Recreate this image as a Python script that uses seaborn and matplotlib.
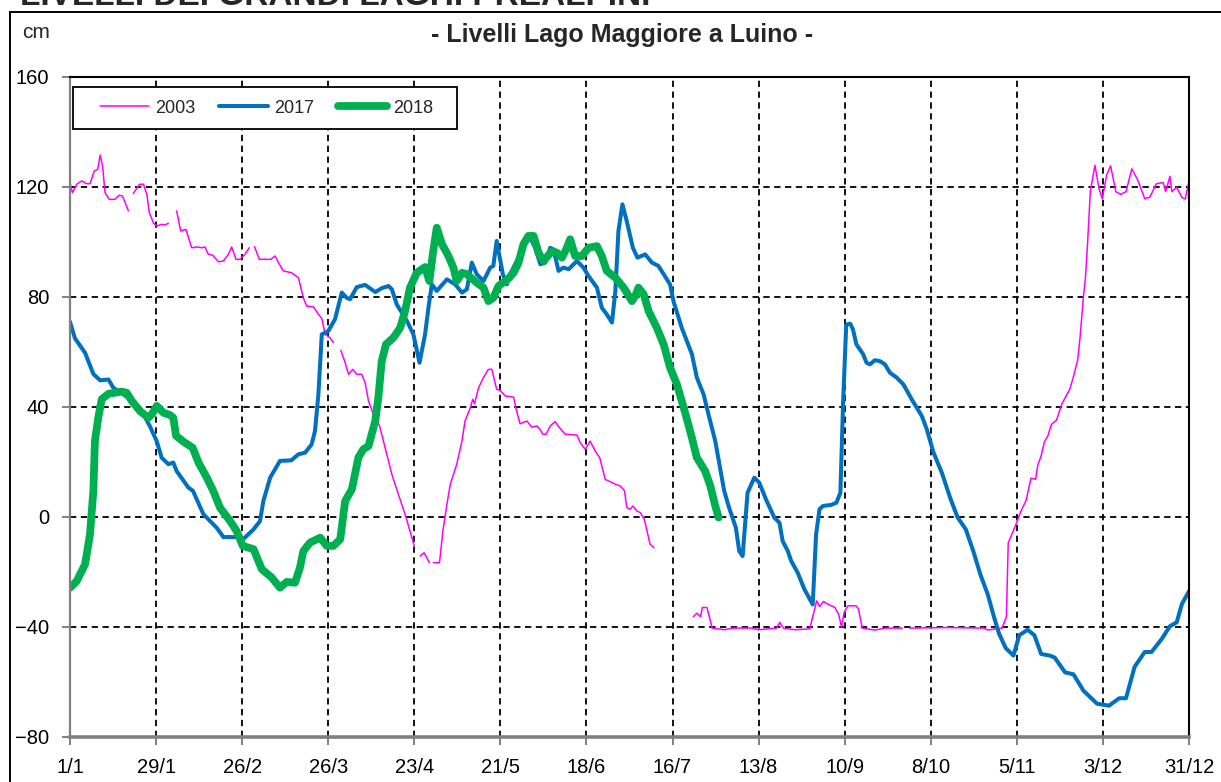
import numpy as np
import pandas as pd
import seaborn as sns
import matplotlib.pyplot as plt
from matplotlib.lines import Line2D
from matplotlib.patches import Rectangle

# x ticks: one every 28 days, labelled day/month
tick_days = list(range(0, 365, 28))
tick_labels = ['1/1', '29/1', '26/2', '26/3', '23/4', '21/5', '18/6', '16/7',
               '13/8', '10/9', '8/10', '5/11', '3/12', '31/12']

# 2003 (None = no reading, the line breaks there)
days_2003 = [0, 0.8, 2.2, 3.8, 5.4, 6.5, 7.9, 9, 9.8, 10.6, 11.4, 12.8, 14.6, 16, 17.1, 19, 19.8,
             20.6, 22.6, 23.9, 25, 25.8, 27.1, 28.2, 29.8, 30.9, 32, 33.3,
             34.7, 36, 37.7, 39.6, 41.2, 42.9, 43.9, 45, 46.4, 48.3, 49.9, 51.5, 52.6, 54, 55.3,
             56.9, 58.3, 59.2,
             60, 61.6, 63.5, 65.3, 66.7, 67.8, 69.4, 72.1, 74.3, 75.9, 77, 79.2, 80.8, 81.9, 83,
             84.6, 85.7, 87,
             88.1, 89.5, 90.6, 92, 93.3, 94.9, 96, 97.1, 98.7, 100.6, 102.5, 104.7, 106.8, 109,
             110.9, 112, 113,
             113.9, 115.2, 116.9, 117.5,
             118.2, 120.2, 121.3, 122.6, 123.7, 125.8, 127.5, 128.5, 130.2, 131, 131.6, 132.9,
             134.5, 136.1, 137.2, 138.8, 139.9, 141.6, 144.3, 145.3, 146.4, 148.6, 150.2, 151.9,
             152.9, 153.8, 154.9, 156.2, 157.8, 159.2, 161.1, 164.9, 166, 167.6, 169.2, 170.8,
             172.3, 174.1, 176.3, 177.4, 179, 180.4, 181.1, 182.2, 183.1, 184.4, 185.5, 186.8,
             187.7, 188.7, 190, 196,
             202.7, 203.9, 205.1, 205.7, 207.2, 208.9, 212.8, 215.7, 221.7, 224, 229.9, 230.9,
             232.1, 235.8, 240.6, 242.9, 243.9, 245.1, 246.5, 248.8, 250, 251, 251.8, 253, 255.7,
             256.5, 257.7, 261.8, 265.4, 270.7, 272,
             273.1, 285, 297.3, 298.5, 303.2, 304.6, 305.2, 307.7, 309.3, 311, 312.6, 314.1,
             314.8, 315.9, 317, 318.1, 319.2, 320.9, 322.6, 325.3, 326.4, 327.8, 328.6, 329.7,
             330.3, 331, 331.9, 333.4, 334.7, 335.8, 337.2, 338.5, 340.2, 341.8, 343.5, 345.4,
             347.3, 349.6, 351.2, 353.4, 355.6, 356.4, 357.8, 358.4, 360, 361.7, 362.8, 364]
level_2003 = [121.6, 117.9, 121, 122.2, 121.2, 121.2, 125.8, 126.4, 131.6, 127.6, 117.9, 115.5,
              115.5, 117, 116.7, 111.3, None,
              117.6, 121, 121, 117.3, 110.7, 107, 105.8, 106.4, 106.2, 106.8, None,
              111.3, 104, 104.6, 97.9, 98.2, 97.9, 98.2, 95.5, 95.2, 92.8, 93.1, 95.5, 98.2, 93.7,
              93.7, 95.5, 97.9, None,
              98.3, 93.7, 93.7, 93.7, 94.9, 92.5, 89.5, 88.8, 87, 79.7, 76.7, 76.4, 73.7, 72.2,
              66.4, 65.2, 63.4, None,
              60.6, 56.1, 51.9, 53.7, 51.9, 51.9, 48.8, 42.2, 37.3, 33.5, 25.2, 15.5, 8.3, 1,
              -6.3, -10.5, None,
              -14.2, -13, -16.6, None,
              -16.6, -16.6, -5.1, 4.6, 11.9, 19.2, 27.6, 34.9, 39.7, 42.8, 41.2, 47, 50.7, 53.7,
              53.7, 46.4, 46.1, 44, 43.6, 38.5, 33.9, 34.9, 32.7, 33.1, 31.9, 30.1, 30.1, 33.1,
              34.7, 32.5, 30.1, 29.8, 27, 24.6, 27.6, 24, 21.6, 13.7, 12.5, 11.9, 11.3, 9.5, 3.4,
              2.8, 4, 2.2, 1.6, -0.8, -5.1, -9.9, -11.2, None,
              -36.3, -35, -36.3, -32.9, -32.9, -40.4, -41, -40.4, -40.4, -41, -40.4, -38.3,
              -40.4, -41, -40.7, -30.5, -32.6, -30.7, -31.7, -32.9, -35.3, -40.1, -34.7, -32.3,
              -32.3, -33.5, -40.4, -41.1, -40.4, -40.4, None,
              -40.4, -40.2, -40.4, -41.1, -40.4, -36.3, -9.4, -2.7, 2, 6, 14.1, 13.7, 18.8, 22.2,
              27.5, 29.5, 33.6, 35.2, 41, 46.7, 51, 57.1, 65.8, 80.6, 86.7, 99.4, 118.3, 127.9,
              119.6, 115.6, 124.3, 127.7, 118.3, 117.3, 118.3, 126.6, 122.6, 115.8, 116.2, 121.2,
              121.6, 118.3, 123.9, 118.3, 119.9, 116.2, 115.6, 122.3]

# 2017
days_2017 = [0, 1.6, 4.9, 7.6, 9.8, 12.5, 14.1, 17.3, 20.6, 23.9, 26, 28.2, 29.8, 32, 33.6, 34.7,
             38.5, 40, 43.4, 47.7, 49.9, 53.7, 56.4, 59.7, 61.8, 62.9, 65.1, 68.3, 72, 74.3,
             76.5, 78.6, 79.7, 80.8, 81.9, 84, 86.2, 88.4, 90, 91.1, 93.3, 96, 99.3, 101.4,
             103.6, 104.7, 106.3, 109.6, 111.7, 113.7, 115.5, 116.6, 117.7, 119.3, 122.6, 125.3,
             127.5, 129.1, 130.7, 132.3, 134.5, 136.7, 137.7, 138.8, 140.8, 142.1, 143.2, 145.3,
             148, 149.7, 151.3, 153, 154.6, 156.2, 157.3, 158.9, 160.5, 162.2, 164.9, 167, 168.7,
             171.4, 173, 174.6, 176.3, 177.4, 178.4, 179.7, 181.1, 183.1, 184.6, 187.1, 189.3,
             191.4, 193.1, 195.2, 196.3, 199, 202.3, 203.9, 206.1, 207.7, 209.9, 211.5, 212.8,
             214.4, 216.6, 217.7, 218.8, 220.4, 222.6, 224.2, 226.4, 229.1, 230.8, 231.8, 233.5,
             234.6, 236.7, 238.9, 241.6, 242.7, 243.8, 244.9, 247.6, 249.3, 250.6, 251.5, 252.5,
             253.8, 254.7, 255.8, 258, 259.1, 260.2, 261.8, 263.4, 265.1, 266.7, 268.9, 271.1,
             273.8, 277.1, 278.7, 280.9, 283.6, 286.3, 288.7, 291.4, 293.8, 296.1, 298.5, 300.6,
             302.2, 304.4, 306.9, 308.8, 311.5, 313.7, 315.9, 318.7, 320.3, 323.7, 326.4, 329.7,
             334.1, 338, 341.3, 343.5, 346.3, 349.6, 351.8, 355.1, 357.8, 360, 361.7, 364]
level_2017 = [71, 65, 59.7, 52, 49.7, 50, 47, 44.6, 42.2, 37.3, 33, 27.6, 21.6, 19.2, 19.8, 16.7,
              10.7, 9.5, 1, -3.9, -7.3, -7.3, -8, -4.5, -1.5, 5.8, 14.3, 20.4, 20.6, 22.8,
              23.4, 26.4, 31.3, 44.6, 66.4, 67.6, 71.9, 81.6, 79.7, 79.2, 83.6, 84.4, 81.8, 83.2,
              84, 82.8, 77.3, 71.3, 66.4, 56.1, 66.4, 76.1, 84.6, 82.2, 86.4, 84.6,
              81.6, 82.8, 92.5, 88.3, 85.8, 90.7, 91.3, 100.4, 88.3, 84.6, 88.3, 93.1,
              99.2, 101.6, 97.9, 91.9, 92.5, 97.9, 97.3, 89.5, 90.7, 90.1, 93.1, 90.7, 87.6,
              83.4, 76.1, 73.7, 70.7, 82.2, 104, 113.7, 107.6, 97.9, 94.3, 95.5, 92.5,
              91.3, 88.3, 84.6, 78.5, 68.8, 59.2, 50.7, 44.6, 37.3, 27.6, 17.5, 9.5,
              3.4, -3.9, -12.4, -14.2, 8.8, 14.3, 12.5, 6.4, -0.2, -2.1, -8.7, -12.4,
              -16, -20.2, -26.3, -31.8, -6.3, 2.8, 4, 4.4, 5.2, 8.8, 42.2, 70,
              70.3, 68.2, 62.8, 59.2, 56.1, 55.5, 57, 56.7, 55.5, 52.5, 50.7, 48.2,
              42.8, 36.7, 31.9, 23.4, 16.1, 7, -0.1, -4.5, -12.3, -20.8, -28, -36.5,
              -42.4, -47.7, -50.4, -43, -41, -43, -49.8, -50.4, -51.1, -56.5, -57.2, -63.2,
              -67.9, -68.6, -65.9, -65.9, -54.5, -49.1, -49.1, -44.4, -39.7, -38.3, -31.6, -27]

# 2018 (readings stop at the end of July)
days_2018 = [0, 2.2, 4.9, 6.5, 7.6, 8.1, 9.2, 10.3, 12.5, 16.8, 18.4, 20.1, 22.8, 25.5, 26.6,
             28.2, 30.4, 32.5, 33.6, 34.5, 37.4, 39.9, 41.8, 44.5, 46.6, 48.8, 52.1, 54.2, 56.2,
             59.7, 62.4, 65.6, 68.3, 70.5, 73.2, 74.8, 75.9, 78.1, 81.4, 83.5, 85.7, 87.9, 89.5,
             91.7, 93.8, 95.4, 97.1, 99.3, 100.3, 101.4, 102.8, 105.2, 107.4, 109, 110.6, 112.8,
             115.5, 116.9, 118, 119.3, 121, 123.1, 124.7, 125.8, 127.5, 129.1, 132.3, 134.5,
             136.1, 137.7, 139.4, 142.6, 144.3, 145.9, 147.5, 149.1, 150.8, 152.4, 154, 156.8,
             158.4, 160, 161.4, 162.7, 164.3, 166.5, 168.7, 171.4, 173, 174.6, 177.4, 180.1,
             182.8, 183.9, 184.9, 186.6, 188.2, 190.9, 193.1, 195.2, 197.4, 199, 200.7, 202.3,
             203.9, 206.6, 208.3, 209.9, 211]
level_2018 = [-25.7, -23.3, -17.2, -6.3, 9.5, 27.6, 36.1, 42.8, 44.8, 45.6, 45.2, 42.2, 38.5,
              36.1, 37.3, 40.4, 37.9, 37.1, 36.1, 29.5, 27, 25.2, 19.8, 14.3, 9.5, 3.4, -1.5,
              -5.1, -10.5, -11.7, -19, -22, -25.7, -23.6, -23.9, -18.4, -12.4, -9.3, -7.5, -10.5,
              -10.5, -8.1, 5.8, 10.1, 21.6, 24.6, 25.8, 34.9, 43.4, 56.7, 62.8, 65.2, 68.8, 74.9,
              83.4, 88.8, 90.9, 85.8, 95.5, 105.2, 99.2, 94.9, 90.7, 85.8, 88.8, 88.3, 85.2,
              83.4, 78.5, 79.7, 84, 86.7, 88.8, 92.5, 99.2, 102.2, 102.2, 96.1, 93.1, 96.7,
              96.1, 94.3, 97.3, 101, 94.9, 94.9, 97.9, 98.5, 94.9, 89.5, 87, 83.4, 78.5, 80.4,
              83.4, 81, 74.9, 68.8, 62.8, 54.3, 48.3, 42.2, 35.5, 28.8, 21.6, 16.7, 11.3, 4,
              -0.2]

df03 = pd.DataFrame({'day': days_2003, 'level': level_2003}).astype(float)
df03['seg'] = df03['level'].isna().cumsum()
df03 = df03.dropna()
df17 = pd.DataFrame({'day': days_2017, 'level': level_2017})
df18 = pd.DataFrame({'day': days_2018, 'level': level_2018})

sns.set_theme(style='white')
plt.rcParams['font.family'] = ['Liberation Sans', 'DejaVu Sans']

fig = plt.figure(figsize=(12.21, 7.82), dpi=100)
ax = fig.add_axes([70 / 1221, 45 / 782, 1119 / 1221, 660 / 782])

sns.lineplot(data=df03, x='day', y='level', units='seg', estimator=None, sort=False,
             color='#FF00FF', lw=1.1, ax=ax)
sns.lineplot(data=df17, x='day', y='level', estimator=None, sort=False,
             color='#0070C0', lw=2.9, ax=ax, solid_joinstyle='round')
sns.lineplot(data=df18, x='day', y='level', estimator=None, sort=False,
             color='#00B050', lw=5.6, ax=ax, solid_joinstyle='round', solid_capstyle='round')

ax.set_xlim(0, 364)
ax.set_ylim(-80, 160)
ax.set_xticks(tick_days)
ax.set_xticklabels(tick_labels)
ax.set_yticks(range(-80, 161, 40))
ax.set_xlabel('')
ax.set_ylabel('')
ax.set_axisbelow(True)
ax.grid(True, color='black', linestyle=(0, (3.5, 2.5)), lw=1.3)
ax.tick_params(axis='both', labelsize=14.5, colors='#808080', labelcolor='black',
               direction='out', length=6, width=1.4)
ax.tick_params(axis='y', pad=9)
ax.tick_params(axis='x', pad=9)
ax.tick_params(left=True, bottom=True)
ax.spines['left'].set_color('#808080')
ax.spines['left'].set_linewidth(1.6)
ax.spines['bottom'].set_color('#808080')
ax.spines['bottom'].set_linewidth(2.6)
for s in ['top', 'right']:
    ax.spines[s].set_color('black')
    ax.spines[s].set_linewidth(1.5)

# legend box
ax.add_patch(Rectangle((0.003, 0.921), 0.3426, 0.0632, transform=ax.transAxes,
                       facecolor='white', edgecolor='black', lw=1.3, zorder=4))
handles = [Line2D([], [], color='#FF00FF', lw=1.1),
           Line2D([], [], color='#0070C0', lw=2.9),
           Line2D([], [], color='#00B050', lw=5.6, solid_capstyle='round')]
ax.legend(handles, ['2003', '2017', '2018'], loc='center left', bbox_to_anchor=(0.0268, 0.953),
          ncol=3, frameon=False, borderpad=0, borderaxespad=0, fontsize=13,
          handlelength=2.7, handletextpad=0.33, columnspacing=1.35)

# frame and texts around the plot
fig.patches.append(Rectangle((9.5 / 1221, -0.01), 1.02, (782 - 11.5) / 782 + 0.01,
                             transform=fig.transFigure, fill=False, edgecolor='black', lw=1.4))
fig.text(622 / 1221, 1 - 35 / 782, '- Livelli Lago Maggiore a Luino -', ha='center', va='center',
         fontsize=18, fontweight='bold')
fig.text(22 / 1221, 1 - 32 / 782, 'cm', ha='left', va='center', fontsize=15)
fig.text(20 / 1221, 1 - 5 / 782, 'LIVELLI DEI GRANDI LAGHI PREALPINI', ha='left', va='baseline',
         fontsize=24, fontweight='bold')

fig.savefig('out.png', dpi=100)
